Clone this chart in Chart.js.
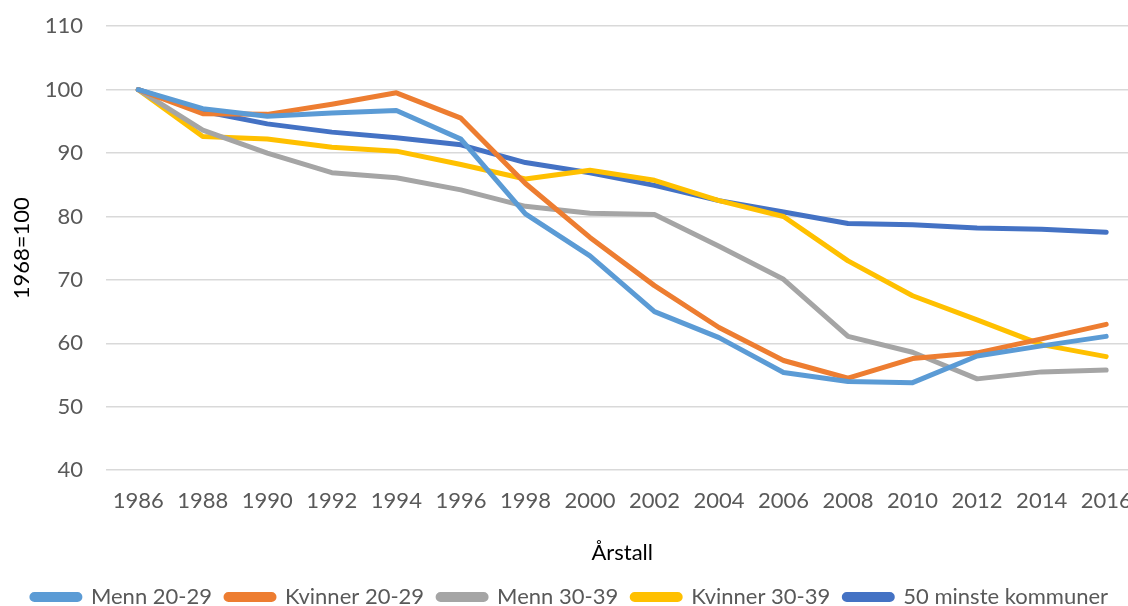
<!DOCTYPE html>
<html lang="no">

<head>
    <meta charset="UTF-8">
    <title>1968=100</title>
    <script src="https://cdn.jsdelivr.net/npm/chart.js"></script>
    <style>
        body {
            margin: 0;
            background: #ffffff;
            overflow: hidden;
        }

        #wrap {
            width: 1150px;
            height: 628px;
            margin-top: -10px;
        }
    </style>
</head>

<body>
    <div id="wrap"><canvas id="myChart"></canvas></div>

    <script>
        const years = ['1986', '1988', '1990', '1992', '1994', '1996', '1998', '2000',
            '2002', '2004', '2006', '2008', '2010', '2012', '2014', '2016'];

        const menn2029 = [100, 97.0, 95.8, 96.3, 96.7, 92.2, 80.4, 73.8, 65.0, 60.9, 55.4, 54.0, 53.8, 58.0, 59.6, 61.1];
        const kvinner2029 = [100, 96.2, 96.1, 97.7, 99.5, 95.5, 85.2, 76.7, 69.1, 62.5, 57.3, 54.5, 57.6, 58.5, 60.7, 63.0];
        const menn3039 = [100, 93.6, 90.0, 86.9, 86.1, 84.2, 81.6, 80.5, 80.3, 75.3, 70.1, 61.1, 58.6, 54.4, 55.5, 55.8];
        const kvinner3039 = [100, 92.6, 92.2, 90.9, 90.3, 88.2, 85.9, 87.3, 85.7, 82.5, 80.0, 73.0, 67.5, 63.7, 59.8, 57.9];
        const minsteKommuner = [100, 96.6, 94.6, 93.3, 92.4, 91.3, 88.5, 86.9, 84.9, 82.5, 80.7, 78.9, 78.7, 78.2, 78.0, 77.5];

        const yTicks = { min: 40, max: 110, step: 10 };

        const textColor = '#595959';
        const fontFamily = 'Lato, "Open Sans", sans-serif';

        function series(label, data, color) {
            return {
                label: label,
                data: data,
                borderColor: color,
                backgroundColor: color,
                borderWidth: 5,
                pointRadius: 0,
                pointHoverRadius: 0,
                borderCapStyle: 'round',
                borderJoinStyle: 'round',
                tension: 0
            };
        }

        const ctx = document.getElementById('myChart').getContext('2d');
        new Chart(ctx, {
            type: 'line',
            data: {
                labels: years,
                datasets: [
                    series('Menn 20-29', menn2029, '#5B9BD5'),
                    series('Kvinner 20-29', kvinner2029, '#ED7D31'),
                    series('Menn 30-39', menn3039, '#A5A5A5'),
                    series('Kvinner 30-39', kvinner3039, '#FFC000'),
                    series('50 minste kommuner', minsteKommuner, '#4472C4')
                ]
            },
            options: {
                responsive: true,
                maintainAspectRatio: false,
                animation: false,
                layout: {
                    padding: { left: 0, right: 10, top: 5, bottom: 0 }
                },
                plugins: {
                    tooltip: { enabled: false },
                    legend: {
                        position: 'bottom',
                        labels: {
                            color: textColor,
                            font: { family: fontFamily, size: 22 },
                            boxWidth: 48,
                            boxHeight: 5,
                            useBorderRadius: true,
                            borderRadius: 2.5,
                            padding: 14
                        }
                    }
                },
                scales: {
                    x: {
                        offset: true,
                        grid: { display: false, drawTicks: false },
                        border: { display: false },
                        ticks: {
                            color: textColor,
                            font: { family: fontFamily, size: 22 },
                            padding: 18,
                            maxRotation: 0,
                            autoSkip: false
                        },
                        title: {
                            display: true,
                            text: 'Årstall',
                            color: '#000000',
                            font: { family: fontFamily, size: 22 },
                            padding: { top: 7, bottom: 6 }
                        }
                    },
                    y: {
                        min: yTicks.min,
                        max: yTicks.max,
                        grid: { color: '#D9D9D9', lineWidth: 1.5, drawTicks: false },
                        border: { display: false },
                        ticks: {
                            stepSize: yTicks.step,
                            color: textColor,
                            font: { family: fontFamily, size: 22 },
                            padding: 23
                        },
                        title: {
                            display: true,
                            text: '1968=100',
                            color: '#000000',
                            font: { family: fontFamily, size: 22 },
                            padding: { top: 9, bottom: 0 }
                        },
                        afterFit: function (scale) {
                            scale.width = 106;
                        }
                    }
                }
            }
        });
    </script>
</body>

</html>
